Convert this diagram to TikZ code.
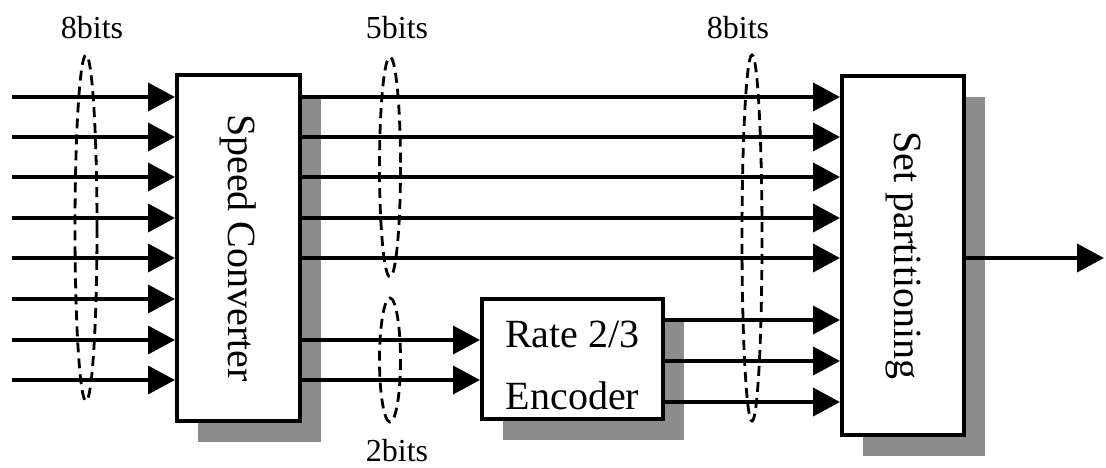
\documentclass[tikz,border=0pt]{standalone}
\usepackage{fontspec}
\setmainfont{Liberation Serif}
\usetikzlibrary{arrows.meta,shadows}

\begin{document}
\begin{tikzpicture}[x=1pt,y=-1pt,
    unit/.style={draw,line width=4pt,fill=white,inner sep=0pt,align=center,
      drop shadow={shadow xshift=21pt,shadow yshift=-21pt,opacity=1,fill=black!45},
      font=\fontsize{40}{48}\selectfont},
    wire/.style={line width=3.8pt,-{Triangle[length=27pt,width=28pt]}},
    bundle/.style={line width=2.8pt,dash pattern=on 10pt off 6pt},
    tag/.style={inner sep=0pt,font=\fontsize{32}{38}\selectfont}]
  \useasboundingbox (0,0) rectangle (1106,468);
  % blocks
  \path
    (238.5,248) node[unit,minimum width=123pt,minimum height=346pt] (sc){\rotatebox{-90}{Speed Converter}}
    (572.5,359) node[unit,minimum width=181pt,minimum height=120pt] (enc){\rule{0pt}{40pt}Rate 2/3\\[14pt]Encoder}
    (903,255.5) node[unit,minimum width=122pt,minimum height=359pt] (sp){\rotatebox{-90}{Set partitioning}};
  % rows of the signals
  \coordinate (i1) at (12,97);
  \coordinate (i2) at (12,137);
  \coordinate (i3) at (12,177);
  \coordinate (i4) at (12,218);
  \coordinate (i5) at (12,258);
  \coordinate (i6) at (12,299);
  \coordinate (i7) at (12,340);
  \coordinate (i8) at (12,380);
  \coordinate (c1) at (0,320);
  \coordinate (c2) at (0,361);
  \coordinate (c3) at (0,402);
  \coordinate (out) at (1104,258);
  \begin{scope}
    \draw[wire] (i1) -- (i1 -| sc.west);
    \draw[wire] (i2) -- (i2 -| sc.west);
    \draw[wire] (i3) -- (i3 -| sc.west);
    \draw[wire] (i4) -- (i4 -| sc.west);
    \draw[wire] (i5) -- (i5 -| sc.west);
    \draw[wire] (i6) -- (i6 -| sc.west);
    \draw[wire] (i7) -- (i7 -| sc.west);
    \draw[wire] (i8) -- (i8 -| sc.west);
    \draw[wire] (i1 -| sc.east) -- (i1 -| sp.west);
    \draw[wire] (i2 -| sc.east) -- (i2 -| sp.west);
    \draw[wire] (i3 -| sc.east) -- (i3 -| sp.west);
    \draw[wire] (i4 -| sc.east) -- (i4 -| sp.west);
    \draw[wire] (i5 -| sc.east) -- (i5 -| sp.west);
    \draw[wire] (i7 -| sc.east) -- (i7 -| enc.west);
    \draw[wire] (i8 -| sc.east) -- (i8 -| enc.west);
    \draw[wire] (c1 -| enc.east) -- (c1 -| sp.west);
    \draw[wire] (c2 -| enc.east) -- (c2 -| sp.west);
    \draw[wire] (c3 -| enc.east) -- (c3 -| sp.west);
    \draw[wire] (i5 -| sp.east) -- (out);
  \end{scope}
  % bus widths
  \draw[bundle] (86,228) ellipse [x radius=11, y radius=173];
  \draw[bundle] (390,167) ellipse [x radius=10.5, y radius=110];
  \draw[bundle] (390,360) ellipse [x radius=10.5, y radius=62];
  \draw[bundle] (752,238) ellipse [x radius=10, y radius=183];
  \node[tag] (w1) at (92,28) {8bits};
  \node[tag] (w2) at (397,28) {5bits};
  \node[tag] (w3) at (738,28) {8bits};
  \node[tag] (w4) at (397,451) {2bits};
\end{tikzpicture}
\end{document}
